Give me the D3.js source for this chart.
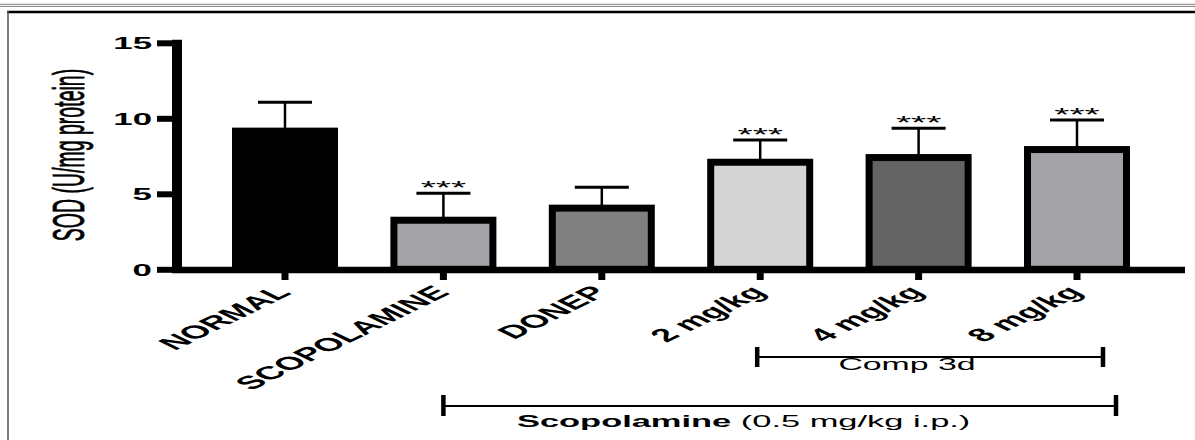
<!DOCTYPE html>
<html>
<head>
<meta charset="utf-8">
<script src="https://cdn.jsdelivr.net/npm/d3@7"></script>
<style>
  html, body { margin: 0; padding: 0; background: #ffffff; }
  svg { display: block; }
</style>
</head>
<body>
<svg id="chart" width="1195" height="440"></svg>
<script>
// ---- data ----
const categories = ["NORMAL", "SCOPOLAMINE", "DONEP", "2 mg/kg", "4 mg/kg", "8 mg/kg"];
const means = [9.15, 3.25, 4.05, 7.09, 7.40, 7.93];
const errors = [1.91, 1.78, 1.38, 1.47, 1.94, 1.95];
const significance = ["", "***", "", "***", "***", "***"];
const fills = ["#000000", "#a3a3a7", "#808080", "#d4d4d4", "#636363", "#a3a3a7"];
const yTicks = [0, 5, 10, 15];
const yLabel = "SOD (U/mg protein)";
const compLabel = "Comp 3d";
const scopBold = "Scopolamine";
const scopRest = " (0.5 mg/kg i.p.)";

// ---- layout ----
const SX = 2.05; // horizontal stretch of the original figure
const FONT = "'Liberation Sans', Arial, sans-serif";
const svg = d3.select("#chart");

// page frame
svg.append("line").attr("x1", 0).attr("x2", 1195).attr("y1", 4.3).attr("y2", 4.3).attr("stroke", "#808080").attr("stroke-width", 1);
svg.append("line").attr("x1", 0).attr("x2", 1195).attr("y1", 6.4).attr("y2", 6.4).attr("stroke", "#808080").attr("stroke-width", 1);
svg.append("line").attr("x1", 7).attr("x2", 1195).attr("y1", 12).attr("y2", 12).attr("stroke", "#000").attr("stroke-width", 2.5);
svg.append("line").attr("x1", 8).attr("x2", 8).attr("y1", 11).attr("y2", 440).attr("stroke", "#555").attr("stroke-width", 1.5);

const y = d3.scaleLinear().domain([0, 15]).range([269.3, 42.8]);
const x = d3.scaleBand().domain(categories).range([205.8, 1156.2]).padding(0);
const cx = c => x(c) + x.bandwidth() / 2;
const barW = x.bandwidth() * 0.625;

const data = categories.map((c, i) => ({ c, m: means[i], e: errors[i], s: significance[i], f: fills[i] }));

// bars
svg.append("g").selectAll("rect").data(data).join("rect")
  .attr("x", d => cx(d.c) - barW / 2)
  .attr("width", barW)
  .attr("y", d => y(d.m))
  .attr("height", d => y(0) - y(d.m))
  .attr("fill", d => d.f)
  .attr("stroke", "#000")
  .attr("stroke-width", 7);

// error bars
const eb = svg.append("g");
eb.selectAll("line.v").data(data).join("line").attr("class", "v")
  .attr("x1", d => cx(d.c)).attr("x2", d => cx(d.c))
  .attr("y1", d => y(d.m) - 3).attr("y2", d => y(d.m + d.e))
  .attr("stroke", "#000").attr("stroke-width", 2.5);
eb.selectAll("line.cap").data(data).join("line").attr("class", "cap")
  .attr("x1", d => cx(d.c) - 27).attr("x2", d => cx(d.c) + 27)
  .attr("y1", d => y(d.m + d.e)).attr("y2", d => y(d.m + d.e))
  .attr("stroke", "#000").attr("stroke-width", 3);

// significance stars
svg.append("g").selectAll("text").data(data.filter(d => d.s)).join("text")
  .attr("transform", d => `translate(${cx(d.c)},${y(d.m + d.e) + 1}) scale(${SX},1)`)
  .attr("text-anchor", "middle")
  .attr("font-family", FONT).attr("font-size", 19)
  .text(d => d.s);

// x axis line
svg.append("line").attr("x1", 172).attr("x2", 1185).attr("y1", 270).attr("y2", 270)
  .attr("stroke", "#000").attr("stroke-width", 6.5);

// x axis ticks and labels
const xAxis = svg.append("g").attr("transform", "translate(0,270)")
  .call(d3.axisBottom(x).tickSize(10).tickSizeOuter(0));
xAxis.select(".domain").remove();
xAxis.selectAll(".tick line").attr("stroke", "#000").attr("stroke-width", 7);
xAxis.selectAll(".tick text")
  .attr("x", 0).attr("y", 0).attr("dy", "0.35em")
  .attr("text-anchor", "end")
  .attr("transform", `translate(-2,19) scale(${SX},1) rotate(-45)`)
  .attr("font-family", FONT).attr("font-weight", "bold").attr("font-size", 18.5)
  .attr("fill", "#000");

// y axis
svg.append("line").attr("x1", 177).attr("x2", 177).attr("y1", y(15) - 3).attr("y2", 273)
  .attr("stroke", "#000").attr("stroke-width", 10);
const yAxis = svg.append("g").attr("transform", "translate(177,0)")
  .call(d3.axisLeft(y).tickValues(yTicks).tickSize(20).tickFormat(d3.format("d")));
yAxis.select(".domain").remove();
yAxis.selectAll(".tick line").attr("stroke", "#000").attr("stroke-width", 6);
yAxis.selectAll(".tick text")
  .attr("x", 0).attr("dy", "0.36em")
  .attr("text-anchor", "end")
  .attr("transform", `translate(-25,0) scale(${SX},1)`)
  .attr("font-family", FONT).attr("font-weight", "bold").attr("font-size", 17)
  .attr("fill", "#000");

// y label
svg.append("text")
  .attr("transform", `translate(84,155) scale(2.3,1) rotate(-90)`)
  .attr("text-anchor", "middle")
  .attr("font-family", FONT).attr("font-size", 19.5)
  .attr("stroke", "#000").attr("stroke-width", 0.35)
  .text(yLabel);

// Comp 3d bracket
const cL = cx("2 mg/kg") - 3, cR = cx("8 mg/kg") + 26, cY = 357;
svg.append("line").attr("x1", cL).attr("x2", cR).attr("y1", cY).attr("y2", cY).attr("stroke", "#000").attr("stroke-width", 2.2);
[cL, cR].forEach(xx => svg.append("line").attr("x1", xx).attr("x2", xx).attr("y1", cY - 10).attr("y2", cY + 10).attr("stroke", "#000").attr("stroke-width", 4.5));
svg.append("text")
  .attr("transform", `translate(907,370) scale(${SX},1)`)
  .attr("text-anchor", "middle")
  .attr("font-family", FONT).attr("font-size", 16.5)
  .text(compLabel);

// Scopolamine bracket
const sL = cx("SCOPOLAMINE"), sR = cx("8 mg/kg") + 39, sY = 406;
svg.append("line").attr("x1", sL).attr("x2", sR).attr("y1", sY).attr("y2", sY).attr("stroke", "#000").attr("stroke-width", 2.2);
[sL, sR].forEach(xx => svg.append("line").attr("x1", xx).attr("x2", xx).attr("y1", sY - 11).attr("y2", sY + 10).attr("stroke", "#000").attr("stroke-width", 4.5));
const st = svg.append("text")
  .attr("transform", `translate(517,427) scale(${SX},1)`)
  .attr("font-family", FONT).attr("font-size", 16.8);
st.append("tspan").attr("font-weight", "bold").text(scopBold);
st.append("tspan").attr("xml:space", "preserve").text(scopRest);
</script>
</body>
</html>
